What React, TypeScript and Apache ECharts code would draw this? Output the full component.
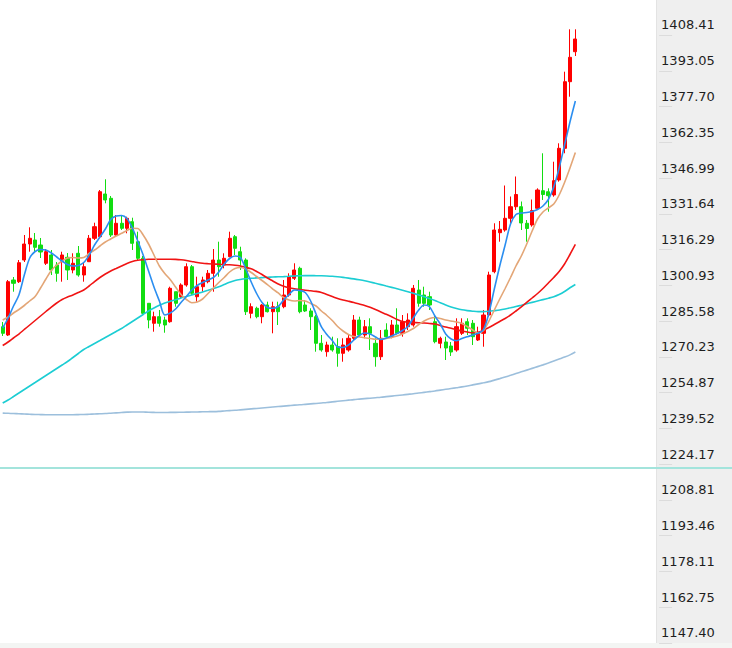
import React, { useEffect, useRef } from "react";
import * as echarts from "echarts";

const SLOT_COUNT = 122;

const OPEN = [
  1278.89, 1275.32, 1298.94, 1298.21, 1307.52, 1314.39, 1316.11, 1313.96, 1306.11, 1309.67,
  1305.38, 1306.79, 1308.68, 1303.23, 1310.4, 1301.08, 1306.79, 1316.84, 1317.52, 1335.86,
  1334.01, 1318.25, 1323.28, 1321.13, 1323.96, 1315.38, 1308.25, 1288.93, 1280.35, 1283.18,
  1281.76, 1281.03, 1293.91, 1291.77, 1296.79, 1304.65, 1291.77, 1296.06, 1298.21, 1301.81,
  1307.52, 1305.38, 1308.94, 1317.52, 1311.08, 1307.52, 1284.64, 1286.79, 1283.18, 1288.2,
  1285.33, 1287.47, 1287.47, 1292.5, 1299.67, 1303.96, 1288.2, 1285.63, 1283.18, 1271.76,
  1268.16, 1271.03, 1270.3, 1267.47, 1268.89, 1273.91, 1281.76, 1275.32, 1278.89, 1271.76,
  1266.01, 1277.47, 1274.6, 1279.62, 1276.05, 1278.89, 1279.62, 1294.64, 1292.5, 1291.77,
  1281.03, 1271.76, 1272.32, 1270.6, 1268.89, 1276.05, 1281.03, 1280.35, 1273.18, 1276.05,
  1283.91, 1302.5, 1319.24, 1320.4, 1325.42, 1330.4, 1330.4, 1323.28, 1322.55, 1329.72,
  1337.27, 1336.84, 1335.43, 1341.87, 1355.48, 1384.07, 1396.94,
];
const CLOSE = [
  1276.05, 1298.21, 1297.52, 1306.36, 1314.39, 1316.84, 1312.97, 1310.96, 1311.08, 1303.23,
  1301.81, 1309.67, 1303.23, 1306.11, 1301.08, 1304.65, 1316.84, 1321.82, 1336.84, 1333.28,
  1318.25, 1323.28, 1321.13, 1325.42, 1314.69, 1308.25, 1284.64, 1281.76, 1283.18, 1280.35,
  1279.62, 1295.37, 1288.93, 1296.79, 1304.65, 1293.23, 1296.06, 1298.94, 1301.81, 1307.52,
  1304.65, 1308.25, 1316.84, 1312.54, 1307.52, 1285.33, 1287.47, 1283.18, 1288.2, 1285.33,
  1287.47, 1285.33, 1292.5, 1300.35, 1303.23, 1285.33, 1285.63, 1283.18, 1271.76, 1268.89,
  1271.03, 1268.89, 1267.47, 1271.03, 1273.91, 1281.76, 1275.32, 1278.89, 1276.05, 1266.01,
  1273.91, 1274.6, 1279.62, 1276.05, 1281.03, 1281.76, 1295.37, 1288.93, 1288.93, 1288.2,
  1272.45, 1273.91, 1269.74, 1268.03, 1278.89, 1280.35, 1278.2, 1274.6, 1276.05, 1283.91,
  1301.08, 1320.4, 1320.7, 1325.42, 1330.4, 1335.64, 1323.41, 1321.05, 1328.77, 1337.57,
  1335.64, 1335.13, 1341.57, 1355.48, 1384.07, 1394.54, 1402.4,
];
const LOW = [
  1274.9, 1274.9, 1293.91, 1297.65, 1306.66, 1311.08, 1310.53, 1308.38, 1305.38, 1301.08,
  1298.21, 1298.21, 1298.94, 1301.81, 1300.35, 1298.21, 1306.66, 1316.11, 1316.84, 1331.86,
  1317.4, 1317.52, 1320.4, 1318.98, 1311.81, 1307.52, 1283.91, 1278.2, 1276.74, 1278.89,
  1276.31, 1280.6, 1287.47, 1291.08, 1296.06, 1292.5, 1289.62, 1293.91, 1297.52, 1293.91,
  1300.35, 1303.96, 1308.68, 1309.67, 1303.23, 1283.91, 1282.49, 1282.49, 1280.35, 1285.0,
  1276.05, 1279.62, 1286.79, 1291.77, 1298.94, 1284.64, 1285.2, 1277.47, 1268.16, 1268.16,
  1266.01, 1268.16, 1261.72, 1263.86, 1268.16, 1273.18, 1274.6, 1273.91, 1268.89, 1261.72,
  1264.59, 1273.91, 1273.91, 1275.54, 1274.6, 1277.47, 1278.89, 1287.47, 1287.47, 1286.06,
  1271.76, 1269.61, 1264.59, 1266.31, 1268.16, 1275.32, 1275.32, 1271.03, 1272.75, 1270.3,
  1283.18, 1301.81, 1315.38, 1319.67, 1322.55, 1329.01, 1320.4, 1315.38, 1321.82, 1329.01,
  1333.28, 1328.26, 1334.7, 1341.14, 1353.33, 1377.63, 1395.1,
];
const HIGH = [
  1280.91, 1298.94, 1300.22, 1307.52, 1318.25, 1321.56, 1319.11, 1316.97, 1312.24, 1311.81,
  1306.66, 1311.08, 1310.53, 1310.4, 1313.53, 1306.66, 1318.25, 1323.53, 1337.57, 1342.17,
  1335.0, 1326.84, 1326.41, 1326.11, 1325.68, 1319.67, 1309.24, 1289.06, 1285.33, 1286.06,
  1283.18, 1296.06, 1293.91, 1297.52, 1306.11, 1305.38, 1300.35, 1300.35, 1303.23, 1312.24,
  1315.38, 1310.4, 1319.67, 1318.25, 1313.23, 1308.25, 1288.93, 1287.47, 1288.6, 1289.62,
  1289.62, 1289.62, 1298.94, 1301.81, 1306.11, 1304.65, 1290.35, 1286.79, 1283.91, 1275.32,
  1272.45, 1274.6, 1273.91, 1273.91, 1275.32, 1283.91, 1283.18, 1281.76, 1282.49, 1273.91,
  1277.47, 1280.35, 1281.76, 1286.79, 1283.91, 1284.64, 1296.79, 1298.94, 1296.06, 1293.91,
  1283.91, 1274.6, 1274.6, 1272.32, 1282.49, 1282.49, 1282.49, 1281.76, 1278.89, 1286.06,
  1302.5, 1323.28, 1324.26, 1339.5, 1334.78, 1343.37, 1332.63, 1324.69, 1333.49, 1338.3,
  1353.33, 1338.3, 1349.72, 1357.62, 1388.36, 1406.56, 1406.56,
];

const MA5 = [
  1278.33, 1282.62, 1287.77, 1292.5, 1301.08, 1308.38, 1311.17, 1312.03, 1311.81, 1310.53,
  1308.81, 1307.09, 1305.59, 1304.95, 1305.16, 1306.45, 1309.67, 1313.96, 1317.4, 1320.83,
  1324.91, 1326.41, 1326.63, 1325.34, 1321.26, 1315.68, 1309.67, 1302.8, 1295.93, 1289.92,
  1283.91, 1284.77, 1286.49, 1289.28, 1291.85, 1294.64, 1296.57, 1297.86, 1298.94, 1300.01,
  1302.37, 1305.8, 1308.17, 1309.24, 1308.6, 1303.66, 1298.08, 1293.14, 1289.28, 1287.13,
  1286.79, 1287.56, 1290.35, 1292.71, 1294.64, 1294.43, 1293.57, 1289.92, 1284.34, 1278.76,
  1275.54, 1272.96, 1270.17, 1269.96, 1271.03, 1273.18, 1275.11, 1276.18, 1275.75, 1274.47,
  1273.39, 1274.04, 1274.9, 1275.97, 1277.26, 1278.97, 1282.62, 1286.06, 1288.2, 1287.47,
  1283.48, 1280.05, 1275.75, 1273.61, 1272.88, 1273.82, 1274.6, 1275.32, 1276.05, 1277.68,
  1284.77, 1295.07, 1304.95, 1313.96, 1322.98, 1327.06, 1327.7, 1327.91, 1328.34, 1329.2,
  1330.7, 1333.49, 1338.86, 1347.02, 1356.89, 1366.77, 1375.78,
];
const MA10 = [
  1281.76, 1283.05, 1284.77, 1286.27, 1287.99, 1289.92, 1291.85, 1295.5, 1299.37, 1303.01,
  1305.38, 1307.09, 1308.38, 1308.6, 1308.38, 1308.6, 1310.31, 1311.81, 1313.53, 1315.25,
  1316.54, 1317.83, 1318.98, 1320.19, 1321.13, 1321.04, 1318.25, 1314.39, 1309.67, 1304.95,
  1301.73, 1299.15, 1295.93, 1292.71, 1290.56, 1289.19, 1289.49, 1290.78, 1293.14, 1295.5,
  1297.86, 1300.01, 1302.37, 1303.87, 1304.3, 1303.66, 1302.15, 1300.44, 1298.72, 1297.0,
  1295.07, 1293.36, 1291.42, 1290.35, 1289.92, 1290.14, 1289.92, 1288.85, 1287.77, 1285.63,
  1283.7, 1281.55, 1278.97, 1277.04, 1275.54, 1274.68, 1274.47, 1274.17, 1273.82, 1273.48,
  1273.61, 1273.82, 1274.25, 1274.9, 1275.75, 1276.83, 1278.12, 1279.83, 1281.33, 1282.41,
  1282.84, 1282.41, 1281.76, 1281.33, 1280.91, 1280.26, 1278.97, 1277.47, 1276.18, 1277.26,
  1281.33, 1286.06, 1290.78, 1295.29, 1300.01, 1304.95, 1309.24, 1314.39, 1319.97, 1325.12,
  1328.13, 1329.85, 1331.56, 1335.43, 1340.79, 1347.02, 1353.67,
];
const MA20 = [
  1270.82, 1272.32, 1274.04, 1275.75, 1277.69, 1279.62, 1281.55, 1283.48, 1285.41, 1287.34,
  1289.06, 1290.56, 1291.64, 1292.5, 1293.57, 1294.64, 1296.36, 1298.29, 1300.01, 1301.51,
  1302.8, 1303.87, 1304.95, 1306.02, 1306.88, 1307.39, 1307.65, 1307.82, 1307.87, 1307.87,
  1307.82, 1307.82, 1307.78, 1307.61, 1307.31, 1306.88, 1306.45, 1306.11, 1305.93, 1305.8,
  1305.68, 1305.55, 1305.46, 1305.29, 1304.95, 1304.39, 1303.74, 1302.59, 1301.3, 1299.79,
  1298.51, 1297.22, 1296.23, 1295.59, 1295.16, 1294.86, 1294.56, 1294.34, 1294.04, 1293.57,
  1292.71, 1291.85, 1290.99, 1290.35, 1289.83, 1289.28, 1288.63, 1287.99, 1287.22, 1286.27,
  1285.2, 1284.21, 1283.14, 1281.98, 1281.12, 1280.82, 1280.69, 1280.6, 1280.48, 1280.26,
  1280.05, 1279.4, 1278.76, 1278.2, 1277.6, 1277.04, 1276.61, 1276.31, 1276.48, 1277.39,
  1278.54, 1279.83, 1281.12, 1282.41, 1283.91, 1285.63, 1287.43, 1289.28, 1291.21, 1293.14,
  1295.29, 1297.65, 1300.01, 1302.59, 1305.8, 1309.88, 1314.18,
];
const MA30 = [
  1246.13, 1247.42, 1248.92, 1250.43, 1251.93, 1253.43, 1254.93, 1256.44, 1257.94, 1259.44,
  1260.94, 1262.45, 1263.95, 1265.67, 1267.38, 1269.1, 1270.39, 1271.68, 1272.96, 1274.25,
  1275.54, 1276.83, 1278.11, 1279.62, 1281.12, 1282.62, 1284.13, 1285.63, 1286.92, 1288.07,
  1289.06, 1289.79, 1290.48, 1291.21, 1291.85, 1292.5, 1293.14, 1293.78, 1294.51, 1295.29,
  1296.06, 1297.0, 1297.95, 1298.72, 1299.15, 1299.45, 1299.67, 1299.84, 1299.97, 1300.1,
  1300.22, 1300.31, 1300.4, 1300.52, 1300.65, 1300.78, 1300.83, 1300.83, 1300.78, 1300.74,
  1300.65, 1300.52, 1300.31, 1300.05, 1299.75, 1299.41, 1299.02, 1298.59, 1298.08, 1297.52,
  1296.96, 1296.36, 1295.76, 1295.16, 1294.56, 1293.91, 1293.23, 1292.5, 1291.77, 1290.99,
  1290.14, 1289.15, 1288.2, 1287.34, 1286.66, 1286.14, 1285.8, 1285.54, 1285.37, 1285.37,
  1285.5, 1285.76, 1286.06, 1286.49, 1287.0, 1287.56, 1288.12, 1288.72, 1289.32, 1289.92,
  1290.52, 1291.12, 1291.77, 1292.71, 1294.0, 1295.59, 1297.0,
];
const MA60 = [
  1241.8, 1241.7, 1241.6, 1241.5, 1241.4, 1241.3, 1241.2, 1241.15, 1241.1, 1241.1,
  1241.1, 1241.1, 1241.1, 1241.1, 1241.15, 1241.2, 1241.3, 1241.4, 1241.5, 1241.6,
  1241.75, 1241.9, 1242.05, 1242.2, 1242.3, 1242.3, 1242.25, 1242.15, 1242.1, 1242.05,
  1242.05, 1242.1, 1242.1, 1242.15, 1242.2, 1242.25, 1242.3, 1242.35, 1242.4, 1242.45,
  1242.55, 1242.7, 1242.85, 1243.0, 1243.2, 1243.4, 1243.6, 1243.8, 1244.0, 1244.2,
  1244.4, 1244.6, 1244.8, 1245.0, 1245.2, 1245.35, 1245.55, 1245.75, 1245.95, 1246.15,
  1246.35, 1246.6, 1246.85, 1247.1, 1247.35, 1247.6, 1247.8, 1248.0, 1248.2, 1248.4,
  1248.6, 1248.85, 1249.1, 1249.35, 1249.6, 1249.85, 1250.1, 1250.4, 1250.7, 1251.0,
  1251.3, 1251.65, 1252.0, 1252.35, 1252.7, 1253.05, 1253.45, 1253.9, 1254.35, 1254.8,
  1255.3, 1255.95, 1256.6, 1257.3, 1258.0, 1258.75, 1259.5, 1260.25, 1261.0, 1261.75,
  1262.5, 1263.3, 1264.15, 1265.0, 1265.85, 1266.8, 1268.0,
];

const Y_LABELS = [
  1408.41, 1393.05, 1377.7, 1362.35, 1346.99, 1331.64, 1316.29, 1300.93, 1285.58,
  1270.23, 1254.87, 1239.52, 1224.17, 1208.81, 1193.46, 1178.11, 1162.75, 1147.4,
];
const AXIS_MIN = 1143.1;
const AXIS_MAX = 1419.14;
const REF_LINE = 1218.2;

const UP = "#ff0000";
const DOWN = "#12dd12";

export default function App() {
  const ref = useRef<HTMLDivElement>(null);

  useEffect(() => {
    if (!ref.current) return;
    const chart = echarts.init(ref.current, null, { renderer: "svg" });
    const categories = Array.from({ length: SLOT_COUNT }, (_, i) => String(i));
    const candleData = OPEN.map((o, i) => [o, CLOSE[i], LOW[i], HIGH[i]]);
    const tickValues = Y_LABELS.map((v) => v - 4.29);

    const line = (name: string, data: number[], color: string, z: number) => ({
      name,
      type: "line",
      data,
      symbol: "none",
      smooth: 0.3,
      z,
      lineStyle: { color, width: 1.6 },
      emphasis: { disabled: true },
    });

    chart.setOption({
      animation: false,
      grid: { left: -1.5, right: 72.9, top: 0, bottom: 5, containLabel: false },
      xAxis: {
        type: "category",
        data: categories,
        boundaryGap: true,
        show: false,
      },
      yAxis: {
        type: "value",
        position: "right",
        min: AXIS_MIN,
        max: AXIS_MAX,
        scale: true,
        splitLine: { show: false },
        axisLine: { show: false },
        axisTick: {
          show: true,
          customValues: tickValues,
          length: 13,
          lineStyle: { color: "#dcdcdc", width: 1 },
        },
        axisLabel: {
          customValues: Y_LABELS,
          formatter: (v: number) => v.toFixed(2),
          margin: 2,
          fontSize: 13,
          fontFamily: "DejaVu Sans",
          color: "#1e1e1e",
        },
      },
      series: [
        {
          type: "candlestick",
          data: candleData,
          barWidth: 3.6,
          z: 2,
          itemStyle: {
            color: UP,
            color0: DOWN,
            borderColor: UP,
            borderColor0: DOWN,
            borderWidth: 1,
          },
        },
        line("MA60", MA60, "#9cbfdc", 3),
        line("MA30", MA30, "#1ccdd3", 3),
        line("MA20", MA20, "#f01414", 3),
        line("MA10", MA10, "#e3a677", 4),
        line("MA5", MA5, "#2b8ef0", 5),
      ],
    });

    const refY = chart.convertToPixel({ yAxisIndex: 0 }, REF_LINE) as number;

    chart.setOption({
      graphic: [
        {
          type: "rect",
          z: -10,
          shape: { x: 656, y: 0, width: 76, height: 648 },
          style: { fill: "#efefef" },
          silent: true,
        },
        {
          type: "line",
          z: -9,
          shape: { x1: 656.5, y1: 0, x2: 656.5, y2: 648 },
          style: { stroke: "#e3e3e3", lineWidth: 1 },
          silent: true,
        },
        {
          type: "rect",
          z: -9,
          shape: { x: 0, y: 643, width: 732, height: 5 },
          style: { fill: "#f3f5f3" },
          silent: true,
        },
        {
          type: "line",
          z: 10,
          shape: { x1: 0, y1: refY, x2: 732, y2: refY },
          style: { stroke: "#a3e4dc", lineWidth: 2 },
          silent: true,
        },
      ],
    });

    return () => chart.dispose();
  }, []);

  return (
    <div
      ref={ref}
      style={{ position: "absolute", left: 0, top: 0, width: 732, height: 648 }}
    />
  );
}
